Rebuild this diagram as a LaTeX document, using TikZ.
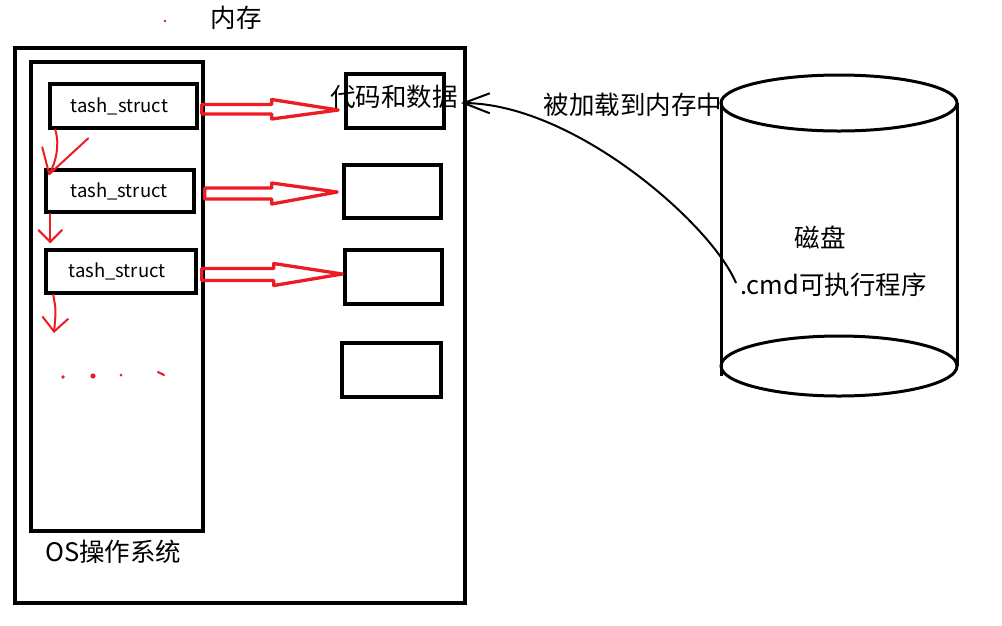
\documentclass[tikz,border=0pt]{standalone}
\usepackage{fontspec}
\setmainfont{Noto Sans CJK SC}
\usetikzlibrary{calc,arrows.meta}
\definecolor{mred}{RGB}{237,28,36}
\begin{document}
\begin{tikzpicture}[x=1pt,y=-1pt,
  box/.style={draw=black,line width=3.5pt,inner sep=0pt,fill=none},
  lbl/.style={inner sep=0pt,font=\fontsize{25.5}{25.5}\selectfont},
  tsk/.style={box,font=\fontsize{18.5}{18.5}\selectfont},
  fat/.style={draw=mred,line width=3.3pt,line join=round},
  thin/.style={draw=mred,line width=2pt,line cap=round,line join=round},
  dot/.style={fill=mred}
]
\useasboundingbox (0,0) rectangle (1002,625);
% memory and OS boxes
\node[box,line width=4pt,minimum width=450pt,minimum height=555pt] (mem) at (240,325.5) {};
\node[box,minimum width=172pt,minimum height=469pt] (os) at (117,296.5) {};
\node[lbl] (memlbl) at (236,18) {内存};
\fill[dot] (165,21) circle (1.3pt);
\node[lbl,anchor=west] (oslbl) at (45,552) {OS操作系统};
% task structs
\node[tsk,minimum width=147pt,minimum height=44pt] (t1) at (123.5,106) {\hspace*{-8pt}\raisebox{-3pt}{tash\_struct}};
\node[tsk,minimum width=148pt,minimum height=42pt] (t2) at (120,191) {\hspace*{-2pt}\raisebox{-2pt}{tash\_struct}};
\node[tsk,minimum width=150pt,minimum height=43pt] (t3) at (121,271.5) {\hspace*{-8pt}\raisebox{-2pt}{tash\_struct}};
% code/data boxes
\node[box,minimum width=98pt,minimum height=54pt] (c1) at (395,101) {};
\node[box,minimum width=97pt,minimum height=53pt] (c2) at (392.5,191.5) {};
\node[box,minimum width=97pt,minimum height=54pt] (c3) at (393.5,277) {};
\node[box,minimum width=99pt,minimum height=54pt] (c4) at (391.5,370) {};
\node[lbl] (data) at (394,97) {代码和数据};
% fat red arrows
\draw[fat] ($(t1.east)+(3,-1.5)$) -- ++(70,0) -- ++(0,-5) -- ($(c1.west)+(-6,9)$) -- ($(t1.east)+(73,13)$) -- ++(0,-5) -- ++(-70,0) -- cycle;
\draw[fat] ($(t2.east)+(9,-3)$) -- ++(67,0) -- ++(0,-5) -- ($(c2.west)+(-5,0.5)$) -- ($(t2.east)+(76,13)$) -- ++(0,-5) -- ++(-67,0) -- cycle;
\draw[fat] ($(t3.east)+(4,-3)$) -- ++(72,0) -- ++(0,-5) -- ($(c3.west)+(-1,-3)$) -- ($(t3.east)+(76,14)$) -- ++(0,-5) -- ++(-72,0) -- cycle;
% thin red linked-list arrows
\coordinate (tip1) at ($(t2.north west)+(5,6)$);
\draw[thin] ($(t1.south west)+(7,0)$) .. controls (60,145) and (56,162) .. (tip1) -- ++(-7,-27) (tip1) -- ++(39,-36);
\draw[thin,-{Straight Barb[length=12pt,width=24pt,line width=2pt]}] ($(t2.south west)+(6,0)$) -- ($(t3.north west)+(6,-5)$);
\coordinate (more) at (54,333);
\draw[thin,-{Straight Barb[length=14pt,width=26pt,line width=2pt]}] ($(t3.south west)+(9,0)$) .. controls (56,310) .. (more);
\fill[dot] (63,377) circle (1.8pt);
\fill[dot] (93,376) circle (2.6pt);
\fill[dot] (121,375) circle (1.5pt);
\draw[thin,line width=2.2pt] (158,372) -- (164,375);
% disk cylinder
\draw[line width=3pt] (839,103) ellipse [x radius=118, y radius=28];
\draw[line width=3pt] (839,366) ellipse [x radius=118, y radius=30];
\draw[line width=3pt] (721,103) -- (721,376);
\draw[line width=3pt] (957,103) -- (957,366);
\node[lbl] (load) at (633,105) {被加载到内存中};
\node[lbl] (disk) at (820,237) {磁盘};
\node[lbl,anchor=west] (cmd) at (740,285) {.cmd可执行程序};
% loading curve
\draw[line width=2pt,-{Straight Barb[length=26pt,width=20pt,line width=2pt]}] ($(cmd.west)+(-4,-2)$) .. controls (712,225) and (575,104) .. ($(data.east)+(3,6)$);
\end{tikzpicture}
\end{document}
